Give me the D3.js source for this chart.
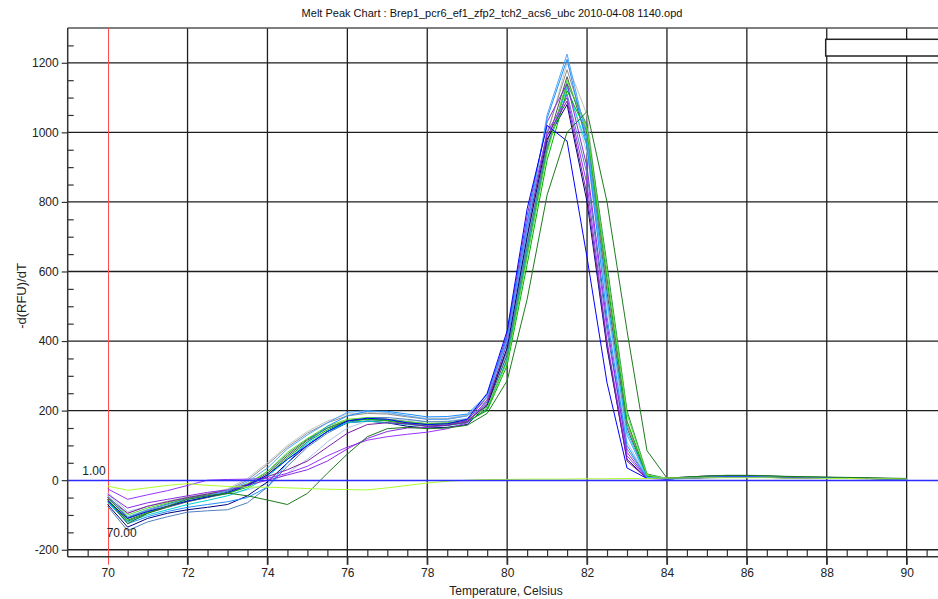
<!DOCTYPE html>
<html lang="en">
<head>
    <meta charset="UTF-8">
    <title>Melt Peak Chart</title>
    <style>
        body {
            margin: 0;
            font-family: "Liberation Sans", Arial, sans-serif;
            background: #fff;
        }
    </style>
</head>
<body>
<script src="https://d3js.org/d3.v7.min.js"></script>
<script>
    // Temperatures (Celsius), one reading every 0.5 degree
    const temps = [70, 70.5, 71, 71.5, 72, 72.5, 73, 73.5, 74, 74.5, 75, 75.5, 76, 76.5, 77, 77.5,
        78, 78.5, 79, 79.5, 80, 80.5, 81, 81.5, 82, 82.5, 83, 83.5, 84, 84.5, 85, 85.5,
        86, 86.5, 87, 87.5, 88, 88.5, 89, 89.5, 90];

    // -d(RFU)/dT per well
    const lightBlue = [-45, -105, -85, -70, -55, -45, -30, -5, 35, 90, 130, 165, 195, 200, 195, 185, 175, 175, 185, 240, 400, 720, 1050, 1225, 980, 520, 130, 8, 5, 7, 9, 10, 10, 9, 8, 8, 7, 6, 5, 4, 3];
    const blue = [-60, -110, -90, -75, -60, -48, -35, -15, 15, 60, 100, 140, 170, 178, 175, 165, 160, 162, 175, 250, 430, 780, 1020, 975, 640, 280, 35, 5, 4, 6, 8, 9, 9, 8, 8, 7, 6, 5, 5, 4, 3];
    const navy = [-70, -135, -110, -95, -85, -78, -70, -45, -5, 50, 100, 140, 165, 170, 165, 155, 150, 152, 160, 215, 380, 700, 980, 1080, 800, 380, 60, 5, 6, 9, 12, 13, 13, 12, 10, 9, 8, 7, 6, 5, 4];
    const steelBlue = [-75, -145, -120, -105, -92, -88, -85, -65, -20, 40, 95, 135, 165, 180, 180, 175, 168, 168, 175, 225, 370, 680, 960, 1110, 880, 430, 90, 8, 4, 6, 8, 9, 9, 8, 7, 7, 6, 5, 5, 4, 3];
    const purple = [-25, -55, -42, -30, -15, 0, 2, 3, 5, 20, 40, 70, 95, 115, 125, 132, 138, 148, 165, 230, 410, 740, 1000, 1100, 850, 400, 70, 5, 4, 6, 7, 8, 8, 8, 7, 6, 6, 5, 4, 4, 3];
    const blueViolet = [-40, -80, -65, -55, -45, -35, -28, -15, 0, 15, 30, 55, 90, 120, 140, 150, 152, 158, 172, 240, 420, 760, 1030, 1140, 900, 450, 80, 6, 4, 6, 8, 9, 9, 8, 7, 7, 6, 5, 5, 4, 3];
    const darkViolet = [-50, -95, -75, -62, -50, -40, -30, -12, 10, 30, 55, 95, 135, 160, 165, 162, 155, 158, 168, 220, 395, 720, 990, 1090, 820, 390, 55, 5, 4, 6, 8, 9, 9, 8, 7, 7, 6, 5, 5, 4, 3];
    const cyan = [-65, -120, -100, -85, -70, -58, -45, -25, 10, 60, 105, 140, 165, 170, 165, 160, 155, 157, 165, 205, 350, 660, 950, 1130, 960, 520, 140, 10, 3, 5, 7, 8, 8, 8, 7, 7, 6, 6, 5, 4, 2];
    const green = [-55, -115, -92, -75, -60, -48, -38, -20, 15, 65, 110, 145, 170, 175, 172, 165, 160, 162, 170, 200, 330, 620, 920, 1120, 1000, 580, 170, 12, 5, 8, 10, 11, 11, 10, 9, 8, 7, 6, 5, 4, 3];
    const lime = [-45, -100, -80, -65, -50, -40, -30, -10, 25, 80, 120, 155, 175, 180, 175, 168, 163, 165, 172, 210, 340, 640, 940, 1150, 1010, 600, 190, 15, 5, 8, 10, 11, 11, 10, 9, 9, 8, 7, 6, 5, 4];
    const darkGreen = [-55, -125, -95, -75, -55, -45, -37, -45, -57, -70, -38, 20, 75, 125, 148, 152, 148, 150, 158, 192, 286, 520, 820, 1000, 1060, 800, 430, 85, 6, 9, 12, 14, 14, 13, 11, 10, 9, 8, 7, 6, 5];
    const grey = [-50, -110, -88, -70, -55, -42, -28, 0, 45, 95, 135, 165, 185, 192, 190, 182, 175, 176, 185, 230, 380, 700, 1000, 1180, 1000, 560, 160, 10, 4, 6, 8, 9, 9, 9, 8, 7, 6, 6, 5, 4, 3];
    const silver = [-40, -95, -75, -60, -48, -38, -25, 5, 50, 100, 140, 170, 190, 195, 192, 185, 178, 178, 188, 235, 375, 690, 990, 1200, 1050, 580, 170, 10, 4, 6, 8, 9, 9, 8, 8, 7, 6, 5, 5, 4, 3];
    const darkGrey = [-55, -118, -95, -78, -62, -50, -38, -15, 20, 70, 115, 150, 172, 178, 175, 168, 162, 164, 172, 215, 360, 670, 970, 1160, 980, 540, 150, 10, 4, 6, 8, 9, 9, 8, 8, 7, 6, 5, 5, 4, 3];
    const lightSteel = [-35, -90, -75, -62, -52, -45, -40, -28, -10, 20, 60, 110, 150, 170, 175, 172, 168, 170, 178, 220, 360, 670, 960, 1140, 940, 500, 110, 8, 4, 6, 7, 8, 8, 8, 7, 6, 6, 5, 5, 4, 3];
    const dodgerBlue = [-60, -125, -105, -90, -78, -70, -62, -50, -20, 50, 110, 155, 185, 198, 198, 190, 182, 183, 190, 245, 410, 740, 1040, 1210, 960, 470, 100, 6, 4, 6, 8, 9, 9, 8, 7, 7, 6, 5, 5, 4, 3];
    const seaGreen = [-50, -108, -85, -68, -52, -42, -32, -12, 25, 75, 118, 150, 170, 175, 170, 162, 156, 158, 166, 205, 345, 650, 950, 1140, 1020, 620, 200, 18, 5, 7, 9, 10, 10, 9, 8, 8, 7, 6, 5, 4, 3];
    const yellowGreen = [-17, -29, -22, -15, -10, -15, -18, -20, -20, -22, -24, -26, -27, -28, -22, -15, -8, -3, 0, 2, 2, 3, 3, 3, 4, 4, 5, 5, 6, 6, 7, 7, 7, 7, 6, 6, 5, 5, 4, 4, 3];

    const wells = [
        {name: "lightSteel", color: "#a8c8e8", values: lightSteel},
        {name: "silver", color: "#c4c4c4", values: silver},
        {name: "grey", color: "#909090", values: grey},
        {name: "darkGrey", color: "#505050", values: darkGrey},
        {name: "steelBlue", color: "#4f81bd", values: steelBlue},
        {name: "navy", color: "#000080", values: navy},
        {name: "cyan", color: "#00d0d0", values: cyan},
        {name: "seaGreen", color: "#2e8b57", values: seaGreen},
        {name: "green", color: "#00b000", values: green},
        {name: "lime", color: "#55dd33", values: lime},
        {name: "purple", color: "#9933ff", values: purple},
        {name: "blueViolet", color: "#8a2be2", values: blueViolet},
        {name: "darkViolet", color: "#7b1fa2", values: darkViolet},
        {name: "dodgerBlue", color: "#1e90ff", values: dodgerBlue},
        {name: "lightBlue", color: "#4da6ff", values: lightBlue},
        {name: "blue", color: "#0000ff", values: blue},
        {name: "darkGreen", color: "#1e7b1e", values: darkGreen},
        {name: "yellowGreen", color: "#adff2f", values: yellowGreen}
    ];

    const xTicks = [70, 72, 74, 76, 78, 80, 82, 84, 86, 88, 90];
    const yTicks = [-200, 0, 200, 400, 600, 800, 1000, 1200];
    const threshold = 1.00;
    const cursorTemp = 70.00;

    const width = 938;
    const height = 599;
    const plotLeft = 67.7;
    const plotTop = 28;
    const plotBottom = 556.7;

    const svg = d3.select("body")
        .append("svg")
        .attr("width", width)
        .attr("height", height);

    svg.append("rect").attr("width", width).attr("height", height).attr("fill", "#fff");

    const x = d3.scaleLinear().domain([69, 90.8]).range([plotLeft, plotLeft + 21.8 * 39.95]);
    const y = d3.scaleLinear().domain([-220, 1300]).range([plotBottom, plotTop]);

    // grid (the cursor and threshold lines replace the 70 and 0 grid lines)
    svg.append("g")
        .selectAll("line")
        .data(xTicks.filter(d => d !== cursorTemp))
        .join("line")
        .attr("x1", d => x(d)).attr("x2", d => x(d))
        .attr("y1", plotTop).attr("y2", plotBottom + 8)
        .attr("stroke", "#1e1e1e").attr("stroke-width", 1.3);

    svg.append("g")
        .selectAll("line")
        .data(yTicks.filter(d => d !== 0))
        .join("line")
        .attr("x1", plotLeft).attr("x2", width)
        .attr("y1", d => y(d)).attr("y2", d => y(d))
        .attr("stroke", "#1e1e1e").attr("stroke-width", 1.3);

    // top frame
    svg.append("line")
        .attr("x1", plotLeft).attr("x2", width)
        .attr("y1", plotTop).attr("y2", plotTop)
        .attr("stroke", "#555").attr("stroke-width", 1.5);

    // temperature cursor
    svg.append("line")
        .attr("x1", Math.round(x(cursorTemp)) + 0.5).attr("x2", Math.round(x(cursorTemp)) + 0.5)
        .attr("y1", plotTop).attr("y2", plotBottom + 8)
        .attr("stroke", "#ff4a4a").attr("stroke-width", 1);

    // curves
    const line = d3.line()
        .x((d, i) => x(temps[i]))
        .y(d => y(d));

    svg.append("g")
        .selectAll("path")
        .data(wells)
        .join("path")
        .attr("d", d => line(d.values))
        .attr("fill", "none")
        .attr("stroke", d => d.color)
        .attr("stroke-width", 1);

    // threshold line
    svg.append("line")
        .attr("x1", plotLeft).attr("x2", width)
        .attr("y1", Math.round(y(threshold)) + 0.5).attr("y2", Math.round(y(threshold)) + 0.5)
        .attr("stroke", "#2b2bff").attr("stroke-width", 1.6);

    // axes
    const fmt = d => String(d);

    const yAxis = svg.append("g")
        .attr("transform", "translate(" + plotLeft + ",0)")
        .call(d3.axisLeft(y).tickValues(yTicks).tickFormat(fmt).tickSize(6).tickPadding(3));
    yAxis.select(".domain").remove();

    const yMinor = d3.range(-200, 1300, 50).filter(v => v % 200 !== 0);
    const yMinorAxis = svg.append("g")
        .attr("transform", "translate(" + plotLeft + ",0)")
        .call(d3.axisRight(y).tickValues(yMinor).tickSize(6).tickFormat(""));
    yMinorAxis.select(".domain").remove();

    const xAxis = svg.append("g")
        .attr("transform", "translate(0," + plotBottom + ")")
        .call(d3.axisBottom(x).tickValues(xTicks).tickFormat(fmt).tickSize(8).tickPadding(4));
    xAxis.select(".domain").remove();
    xAxis.selectAll(".tick line").filter(d => d === cursorTemp).remove();

    const xMinor = d3.range(69.5, 91, 0.5).filter(v => v % 2 !== 0);
    const xMinorAxis = svg.append("g")
        .attr("transform", "translate(0," + plotBottom + ")")
        .call(d3.axisTop(x).tickValues(xMinor).tickSize(7).tickFormat(""));
    xMinorAxis.select(".domain").remove();

    svg.selectAll(".tick line").attr("stroke", "#333").attr("stroke-width", 1.2);
    svg.selectAll(".tick text")
        .attr("fill", "#222")
        .style("font-family", "'Liberation Sans', Arial, sans-serif")
        .style("font-size", "12px");

    svg.append("line")
        .attr("x1", plotLeft).attr("x2", plotLeft)
        .attr("y1", plotTop).attr("y2", plotBottom)
        .attr("stroke", "#333").attr("stroke-width", 1.5);
    svg.append("line")
        .attr("x1", plotLeft).attr("x2", width)
        .attr("y1", plotBottom).attr("y2", plotBottom)
        .attr("stroke", "#333").attr("stroke-width", 1.5);

    // labels
    svg.append("text")
        .attr("x", 492).attr("y", 17)
        .attr("text-anchor", "middle")
        .style("font-size", "11px")
        .attr("fill", "#111")
        .text("Melt Peak Chart : Brep1_pcr6_ef1_zfp2_tch2_acs6_ubc 2010-04-08 1140.opd");

    svg.append("text")
        .attr("x", 506).attr("y", 595)
        .attr("text-anchor", "middle")
        .style("font-size", "12px")
        .attr("fill", "#222")
        .text("Temperature, Celsius");

    svg.append("text")
        .attr("transform", "translate(26,296) rotate(-90)")
        .attr("text-anchor", "middle")
        .style("font-size", "13px")
        .attr("fill", "#222")
        .text("-d(RFU)/dT");

    svg.append("text")
        .attr("x", x(cursorTemp) - 2).attr("y", y(threshold) - 5)
        .attr("text-anchor", "end")
        .style("font-size", "12px")
        .attr("fill", "#222")
        .text(threshold.toFixed(2));

    svg.append("text")
        .attr("x", x(cursorTemp) - 1).attr("y", 537)
        .style("font-size", "12px")
        .attr("fill", "#222")
        .text(cursorTemp.toFixed(2));

    // legend box (cut off at the right edge)
    svg.append("rect")
        .attr("x", 825.7).attr("y", 39.3)
        .attr("width", 130).attr("height", 16.7)
        .attr("fill", "#fff")
        .attr("stroke", "#222").attr("stroke-width", 1.5);
</script>
</body>
</html>
